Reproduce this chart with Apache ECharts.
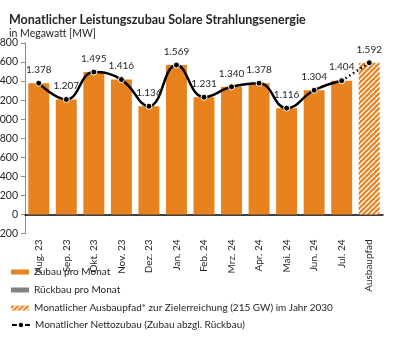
<!DOCTYPE html>
<html>
<head>
<meta charset="utf-8">
<script src="https://cdn.jsdelivr.net/npm/echarts@6/dist/echarts.min.js"></script>
<style>
  html, body { margin: 0; padding: 0; background: #fff; }
  #chart { width: 395px; height: 337px; }
</style>
</head>
<body>
<div id="chart"></div>
<script>
// Months and the target bar
const categories = ['Aug. 23', 'Sep. 23', 'Okt. 23', 'Nov. 23', 'Dez. 23', 'Jan. 24',
  'Feb. 24', 'Mrz. 24', 'Apr. 24', 'Mai. 24', 'Jun. 24', 'Jul. 24', 'Ausbaupfad'];
// Monthly additions in MW
const zubau = [1378, 1207, 1495, 1416, 1136, 1569, 1231, 1340, 1378, 1116, 1304, 1404, null];
// Monthly decommissioning (too small to show at this scale)
const rueckbau = [];
// Required monthly path for the 2030 target
const ausbaupfad = [null, null, null, null, null, null, null, null, null, null, null, null, 1592];
// Net additions per month
const netto = [1378, 1207, 1495, 1416, 1136, 1569, 1231, 1340, 1378, 1116, 1304, 1404, null];
// Dotted link from the last month to the target value
const nettoPfad = [null, null, null, null, null, null, null, null, null, null, null, 1404, 1592];
// Y axis ticks
const yMin = -200, yMax = 1800, yStep = 200;

const FONT = 'Lato';
const ORANGE = '#E8821E';
const GREY = '#808285';

// German number format: 1378 -> 1.378
function de(v) {
  const s = String(Math.abs(v)).replace(/\B(?=(\d{3})+(?!\d))/g, '.');
  return (v < 0 ? '-' : '') + s;
}

// Diagonal hatch pattern for the target bar
function hatch() {
  const c = document.createElement('canvas');
  const n = 5;
  c.width = n; c.height = n;
  const g = c.getContext('2d');
  g.fillStyle = ORANGE;
  g.fillRect(0, 0, n, n);
  g.strokeStyle = '#ffffff';
  g.lineWidth = 1.3;
  for (let k = -1; k <= 1; k++) {
    g.beginPath();
    g.moveTo(k * n, n);
    g.lineTo(k * n + n, 0);
    g.stroke();
  }
  return { image: c, repeat: 'repeat' };
}

const chart = echarts.init(document.getElementById('chart'), null, { renderer: 'canvas' });

const legendBase = {
  left: 11,
  orient: 'vertical',
  itemWidth: 18,
  itemHeight: 5,
  itemGap: 0,
  padding: 0,
  selectedMode: false,
  textStyle: { fontFamily: FONT, fontSize: 10, color: '#262626' }
};

chart.setOption({
  animation: false,
  backgroundColor: '#ffffff',
  textStyle: { fontFamily: FONT },
  title: [
    { text: 'Monatlicher Leistungszubau Solare Strahlungsenergie', left: 4, top: 8,
      textStyle: { fontFamily: FONT, fontSize: 12.5, fontWeight: 'bold', color: '#262626' } },
    { text: 'in Megawatt [MW]', left: 4, top: 23,
      textStyle: { fontFamily: FONT, fontSize: 10.5, fontWeight: 'normal', color: '#262626' } }
  ],
  legend: [
    Object.assign({}, legendBase, { top: 267, data: [{ name: 'Zubau pro Monat', icon: 'rect' }] }),
    Object.assign({}, legendBase, { top: 285, data: [{ name: 'Rückbau pro Monat', icon: 'rect' }] }),
    Object.assign({}, legendBase, { top: 303, data: [{ name: 'Monatlicher Ausbaupfad* zur Zielerreichung (215 GW) im Jahr 2030', icon: 'rect' }] }),
    Object.assign({}, legendBase, { top: 320, itemHeight: 8, data: [{ name: 'Monatlicher Nettozubau (Zubau abzgl. Rückbau)' }] })
  ],
  grid: { left: 25, right: 12, top: 43, bottom: 103.5, containLabel: false, outerBoundsMode: 'none' },
  xAxis: {
    type: 'category',
    data: categories,
    axisLine: { onZero: true, lineStyle: { color: '#000', width: 1.5 } },
    axisTick: { show: false },
    axisLabel: { rotate: 90, margin: 6, fontFamily: FONT, fontSize: 10, color: '#262626', interval: 0 }
  },
  yAxis: {
    type: 'value',
    min: yMin, max: yMax, interval: yStep,
    splitLine: { show: false },
    axisLine: { show: true, lineStyle: { color: '#8c8c8c' } },
    axisTick: { show: true, length: 4, lineStyle: { color: '#8c8c8c' } },
    axisLabel: { margin: 7, fontFamily: FONT, fontSize: 10.5, color: '#262626', formatter: de }
  },
  series: [
    { name: 'Zubau pro Monat', type: 'bar', stack: 'b', data: zubau, barCategoryGap: '24%',
      itemStyle: { color: ORANGE } },
    { name: 'Rückbau pro Monat', type: 'bar', stack: 'b', data: rueckbau,
      itemStyle: { color: GREY } },
    { name: 'Monatlicher Ausbaupfad* zur Zielerreichung (215 GW) im Jahr 2030', type: 'bar', stack: 'b',
      data: ausbaupfad, itemStyle: { color: hatch() } },
    { name: 'Monatlicher Nettozubau (Zubau abzgl. Rückbau)', type: 'line', data: netto, smooth: 0.45,
      z: 5, connectNulls: false,
      lineStyle: { color: '#000', width: 2.5 },
      symbol: 'circle', symbolSize: 6,
      itemStyle: { color: '#000', borderColor: '#fff', borderWidth: 1 },
      label: { show: true, position: 'top', distance: 5, fontFamily: FONT, fontSize: 10, color: '#262626',
        formatter: p => de(p.value) } },
    { name: 'pfad', type: 'line', data: nettoPfad, z: 4,
      lineStyle: { color: '#000', width: 2.5, type: [1.5, 3] },
      symbol: 'circle', symbolSize: 6,
      itemStyle: { color: '#000', borderColor: '#fff', borderWidth: 1 },
      label: { show: true, position: 'top', distance: 5, fontFamily: FONT, fontSize: 10, color: '#262626',
        formatter: p => (p.dataIndex === 12 ? de(p.value) : '') } }
  ]
});
</script>
</body>
</html>
